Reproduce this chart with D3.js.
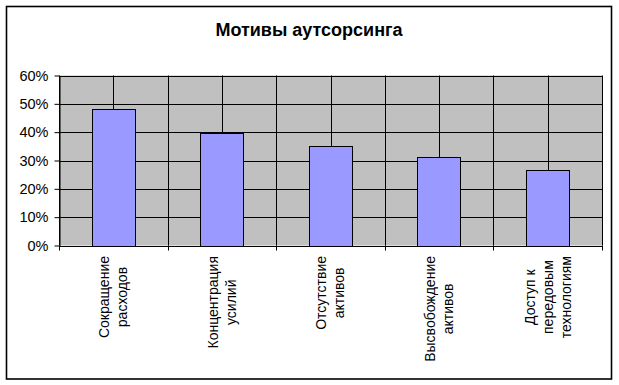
<!DOCTYPE html>
<html>
<head>
<meta charset="utf-8">
<script src="https://cdn.jsdelivr.net/npm/d3@7"></script>
<style>
  html, body { margin: 0; padding: 0; background: #fff; }
  svg { display: block; }
  text { font-family: "Liberation Sans", Arial, sans-serif; fill: #000; }
</style>
</head>
<body>
<svg id="chart" width="619" height="385"></svg>
<script>
const title = "Мотивы аутсорсинга";
const categories = [
  "Сокращение расходов",
  "Концентрация усилий",
  "Отсутствие активов",
  "Высвобождение активов",
  "Доступ к передовым технологиям"
];
const categoryLines = [
  ["Сокращение", "расходов"],
  ["Концентрация", "усилий"],
  ["Отсутствие", "активов"],
  ["Высвобождение", "активов"],
  ["Доступ к", "передовым", "технологиям"]
];
const values = [0.481, 0.396, 0.350, 0.311, 0.266];
const yTicks = [0, 0.1, 0.2, 0.3, 0.4, 0.5, 0.6];

const svg = d3.select("#chart");
const W = 619, H = 385;
const plot = { left: 59, right: 602, top: 75.5, bottom: 245.5 };

svg.append("rect").attr("width", W).attr("height", H).attr("fill", "#fff");
svg.append("rect")
  .attr("x", 6.5).attr("y", 6.5).attr("width", 605).attr("height", 372.5)
  .attr("fill", "none").attr("stroke", "#000").attr("stroke-width", 1.6);

svg.append("text")
  .attr("x", 309).attr("y", 36)
  .attr("text-anchor", "middle")
  .style("font-size", "18px").style("font-weight", "bold")
  .text(title);

const x = d3.scaleBand().domain(categories)
  .range([plot.left, plot.right]).paddingInner(0.6).paddingOuter(0.3);
const y = d3.scaleLinear().domain([0, 0.6]).range([plot.bottom, plot.top]);
const step = x.step(), bw = x.bandwidth();

// plot background
svg.append("rect")
  .attr("x", plot.left).attr("y", plot.top)
  .attr("width", plot.right - plot.left).attr("height", plot.bottom - plot.top)
  .attr("fill", "#c0c0c0");

// horizontal gridlines
svg.append("g").selectAll("line").data(yTicks.slice(1)).join("line")
  .attr("x1", plot.left).attr("x2", plot.right)
  .attr("y1", d => Math.round(y(d)) + 0.5).attr("y2", d => Math.round(y(d)) + 0.5)
  .attr("stroke", "#000").attr("stroke-width", 1);

// vertical gridlines at category boundaries and centers
const vPos = [];
categories.forEach(c => {
  vPos.push(x(c) - (step - bw) / 2);
  vPos.push(x(c) + bw / 2);
});
vPos.push(x(categories[categories.length - 1]) + bw + (step - bw) / 2);
svg.append("g").selectAll("line").data(vPos).join("line")
  .attr("x1", d => Math.round(d) + 0.5).attr("x2", d => Math.round(d) + 0.5)
  .attr("y1", plot.top).attr("y2", plot.bottom)
  .attr("stroke", "#000").attr("stroke-width", 1);

// bars
svg.append("g").selectAll("rect").data(values).join("rect")
  .attr("x", (d, i) => Math.round(x(categories[i])) + 0.5)
  .attr("y", d => Math.round(y(d)) + 0.5)
  .attr("width", Math.round(bw))
  .attr("height", d => Math.round(y(0)) - Math.round(y(d)))
  .attr("fill", "#9999ff").attr("stroke", "#000").attr("stroke-width", 1);

// y axis
const yAxis = svg.append("g")
  .attr("transform", `translate(${plot.left + 0.5},0)`)
  .call(d3.axisLeft(y).tickValues(yTicks).tickFormat(d3.format(".0%"))
    .tickSize(5).tickPadding(6).tickSizeOuter(0));
yAxis.select(".domain").attr("stroke", "#000");
yAxis.selectAll(".tick line").attr("stroke", "#000");
yAxis.selectAll("text").style("font-size", "14.5px")
  .style("font-family", '"Liberation Sans", Arial, sans-serif').attr("fill", "#000");

// x axis line and boundary ticks
const bounds = vPos.filter((d, i) => i % 2 === 0);
svg.append("line")
  .attr("x1", plot.left).attr("x2", plot.right + 1)
  .attr("y1", Math.round(plot.bottom) + 0.5).attr("y2", Math.round(plot.bottom) + 0.5)
  .attr("stroke", "#000");
svg.append("g").selectAll("line").data(bounds).join("line")
  .attr("x1", d => Math.round(d) + 0.5).attr("x2", d => Math.round(d) + 0.5)
  .attr("y1", plot.bottom).attr("y2", plot.bottom + 5)
  .attr("stroke", "#000");

// rotated category labels
const pitch = 18, topY = 256;
categoryLines.forEach((lines, i) => {
  const cx = x(categories[i]) + bw / 2;
  const g = svg.append("g");
  const t = g.append("text")
    .attr("text-anchor", "middle")
    .style("font-size", "14px");
  lines.forEach((ln, j) => {
    t.append("tspan")
      .attr("x", 0)
      .attr("y", (j - (lines.length - 1) / 2) * pitch)
      .attr("dy", "0.35em")
      .text(ln);
  });
  let maxLen = 0;
  t.selectAll("tspan").each(function () {
    maxLen = Math.max(maxLen, this.getComputedTextLength());
  });
  g.attr("transform", `translate(${cx},${topY + maxLen / 2}) rotate(-90)`);
});
</script>
</body>
</html>
